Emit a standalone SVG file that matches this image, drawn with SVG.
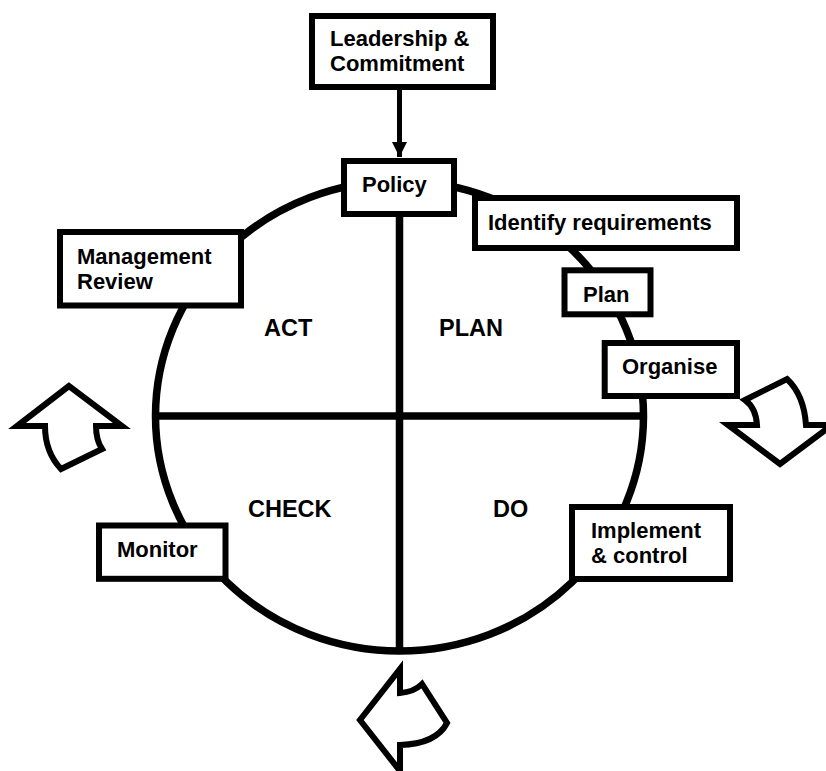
<svg xmlns="http://www.w3.org/2000/svg" width="826" height="771" viewBox="0 0 826 771">
<style>
.box{fill:#fff;stroke:#000;stroke-width:6}
.t{font-family:"Liberation Sans",Arial,sans-serif;font-weight:bold;font-size:22px;fill:#000}
.q{font-family:"Liberation Sans",Arial,sans-serif;font-weight:bold;font-size:23.5px;fill:#000}
.ring{fill:none;stroke:#000;stroke-width:7.5}
.bar{stroke:#000;stroke-width:7.5}
.big{fill:#fff;stroke:#000;stroke-width:6;stroke-linejoin:miter}
</style>
<defs>
<marker id="ah" markerUnits="userSpaceOnUse" markerWidth="18" markerHeight="15" refX="17" refY="8.5" orient="auto" viewBox="0 0 17 17">
<path d="M0,0 L17,8.5 L0,17 Z" fill="#000"/>
</marker>
</defs>
<rect width="826" height="771" fill="#fff"/>
<g id="cycle">
<line class="bar" x1="155.5" y1="416" x2="643.5" y2="416"/>
<line class="bar" x1="399.5" y1="190" x2="399.5" y2="651"/>
<ellipse class="ring" cx="399.5" cy="416" rx="244" ry="235"/>
<text class="q" x="264" y="336">ACT</text>
<text class="q" x="439" y="336">PLAN</text>
<text class="q" x="248" y="517">CHECK</text>
<text class="q" x="493" y="517">DO</text>
</g>
<g id="connectors">
<line x1="399.5" y1="90" x2="399.5" y2="157" stroke="#000" stroke-width="5" marker-end="url(#ah)"/>
</g>
<g id="leadership">
<rect class="box" x="312" y="16" width="181" height="71"/>
<text class="t" x="330" y="45.5">Leadership &amp;</text>
<text class="t" x="330" y="70.5">Commitment</text>
</g>
<g id="policy">
<rect class="box" x="344" y="161" width="110" height="53"/>
<text class="t" x="362" y="192">Policy</text>
</g>
<g id="identify">
<rect class="box" x="475" y="198" width="262" height="50"/>
<text class="t" x="488" y="230">Identify requirements</text>
</g>
<g id="plan">
<rect class="box" x="564.5" y="270.3" width="86" height="44"/>
<text class="t" x="583" y="301.7">Plan</text>
</g>
<g id="organise">
<rect class="box" x="604.7" y="343" width="132.3" height="53"/>
<text class="t" x="622" y="374">Organise</text>
</g>
<g id="management">
<rect class="box" x="60" y="232" width="181" height="73.5"/>
<text class="t" x="77" y="264">Management</text>
<text class="t" x="77" y="289">Review</text>
</g>
<g id="monitor">
<rect class="box" x="99" y="525.5" width="126.5" height="53.3"/>
<text class="t" x="117" y="557.3">Monitor</text>
</g>
<g id="implement">
<rect class="box" x="572" y="507" width="158" height="72"/>
<text class="t" x="591" y="538">Implement</text>
<text class="t" x="591" y="563">&amp; control</text>
</g>
<g id="arrow-left">
<path class="big" d="M69,386 L17,426 L45,426 Q45,452 61,469 L102,449 Q96,440 96,426 L122,426 Z"/>
</g>
<g id="arrow-right">
<path class="big" d="M745,400 L787,379 Q804,395 806,425 L832,425 L780,464 L728,425 L757,425 Q756,408 745,400 Z"/>
</g>
<g id="arrow-bottom">
<path class="big" d="M400,669 L400,693 Q414,692 422,684 L447,723 Q436,744 400,745 L400,771 L360,720 Z"/>
</g>
</svg>
